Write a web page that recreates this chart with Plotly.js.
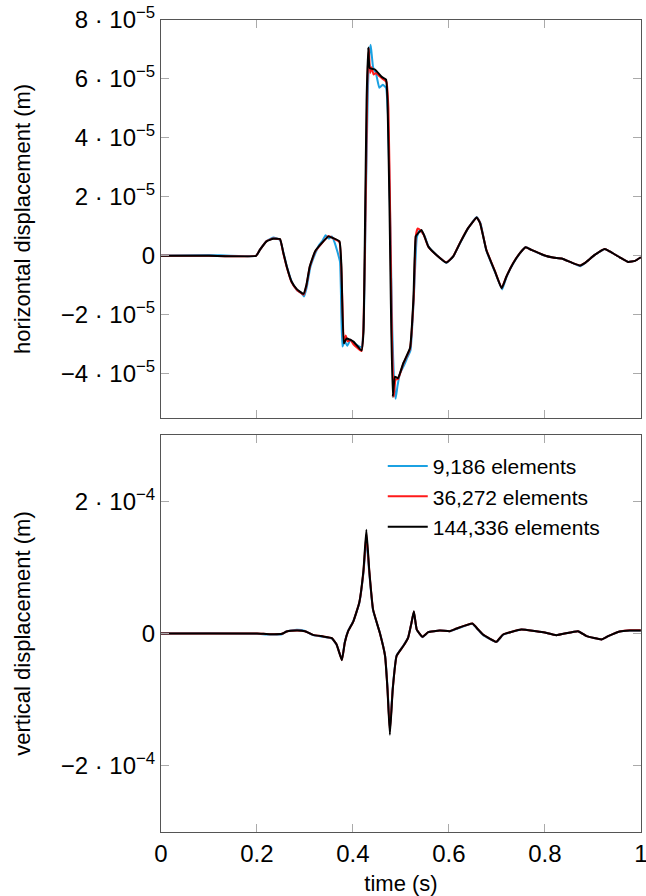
<!DOCTYPE html>
<html>
<head>
<meta charset="utf-8">
<script src="https://cdn.plot.ly/plotly-3.0.1.min.js"></script>
<style>html,body{margin:0;padding:0;background:#fff;}#chart{width:646px;height:896px;}</style>
</head>
<body>
<div id="chart"></div>
<script>
// ---- series names ----
const seriesNames = ["9,186 elements", "36,272 elements", "144,336 elements"];

// ---- horizontal displacement (units of 1e-6 m) ----
const tH_blue = [0,0.1,0.198,0.206,0.220,0.234,0.248,0.256,0.263,0.273,0.284,0.292,0.298,0.304,0.311,0.322,0.330,0.336,0.343,0.350,0.356,0.362,0.373,0.378,0.383,0.388,0.395,0.402,0.418,0.423,0.427,0.431,0.434,0.437,0.442,0.448,0.455,0.462,0.469,0.473,0.478,0.482,0.486,0.489,0.493,0.498,0.507,0.512,0.520,0.527,0.533,0.538,0.544,0.550,0.558,0.575,0.595,0.609,0.623,0.640,0.658,0.666,0.678,0.696,0.711,0.720,0.734,0.748,0.760,0.772,0.797,0.817,0.835,0.856,0.874,0.883,0.904,0.925,0.935,0.956,0.974,0.988,1.0];
const yH_blue = [0,0.3,0,2.0,5.0,6.2,5.4,0.5,-4.0,-9.0,-11.8,-12.5,-13.8,-10.5,-4.0,1.0,3.8,5.0,7.0,5.8,6.6,4.5,-2.0,-30.8,-29.0,-30.5,-28.5,-29.5,-31.0,-20,20,55,68,71.6,64,62,57,58,57,48,10,-25,-44,-48.5,-44,-40,-37,-35,-32,-14,6,8.5,8.0,6.5,3,0.2,-2.4,-0.3,4.2,9.3,13.2,11.0,1.8,-5.5,-11.4,-7.2,-2.6,0.8,3.0,2.0,0.2,-0.6,-0.9,-2.3,-3.5,-2.6,0.3,2.3,1.5,-0.5,-2.1,-1.7,-0.5];

const tH_red = [0,0.1,0.198,0.206,0.220,0.234,0.248,0.255,0.262,0.272,0.283,0.297,0.303,0.310,0.321,0.335,0.349,0.359,0.372,0.377,0.381,0.385,0.389,0.395,0.401,0.418,0.422,0.426,0.430,0.433,0.436,0.439,0.443,0.448,0.455,0.462,0.470,0.474,0.478,0.481,0.485,0.489,0.494,0.505,0.519,0.527,0.531,0.535,0.541,0.548,0.557,0.574,0.595,0.609,0.623,0.640,0.658,0.665,0.678,0.696,0.710,0.720,0.734,0.748,0.760,0.772,0.797,0.817,0.835,0.856,0.874,0.883,0.904,0.925,0.935,0.956,0.974,0.988,1.0];
const yH_red = [0,0,0,2.0,5.0,5.9,5.6,0.8,-3.8,-8.9,-11.5,-13.2,-10.2,-3.8,1.3,4.2,6.7,5.9,4.6,-10,-29.5,-27,-29,-28.5,-30,-32.3,-24,12,58,70.5,62,64,61.5,62,61,60,59,50,10,-25,-47.8,-42,-41.8,-36.6,-31.5,-13,6.8,9.3,8.6,7.0,3.1,0.3,-2.2,-0.2,4.4,9.4,13.0,11.2,2.1,-5.2,-10.9,-7.0,-2.4,0.9,2.9,2.0,0.3,-0.6,-0.9,-2.3,-3.3,-2.5,0.3,2.3,1.5,-0.5,-2.1,-1.7,-0.5];

const tH_black = [0,0.1,0.198,0.206,0.220,0.234,0.248,0.255,0.262,0.272,0.283,0.297,0.303,0.310,0.321,0.335,0.349,0.359,0.372,0.376,0.381,0.387,0.401,0.418,0.422,0.425,0.4285,0.432,0.435,0.446,0.460,0.469,0.472,0.476,0.479,0.483,0.4875,0.494,0.505,0.519,0.526,0.531,0.536,0.543,0.548,0.557,0.574,0.595,0.609,0.623,0.640,0.658,0.665,0.678,0.696,0.710,0.720,0.734,0.748,0.760,0.772,0.797,0.817,0.835,0.856,0.874,0.883,0.904,0.925,0.935,0.956,0.974,0.988,1.0];
const yH_black = [0,0,0,2.0,4.9,5.8,5.7,1.0,-3.6,-8.7,-11.3,-12.9,-9.9,-3.6,1.5,4.3,6.6,6.0,4.9,-3.6,-29.7,-28,-29.1,-32.1,-26,7.8,53,70.7,63.7,63.2,60.7,59.8,53,19,-15,-47.8,-41,-41.5,-36.4,-31.3,-15,6.6,7.7,8.8,7.1,3.2,0.3,-2.3,-0.2,4.3,9.4,13,11.1,2.0,-5.3,-11,-7.0,-2.5,0.9,2.9,2.0,0.3,-0.6,-0.9,-2.3,-3.3,-2.5,0.3,2.3,1.5,-0.5,-2.1,-1.7,-0.5];

// ---- vertical displacement (units of 1e-6 m) ----
const tV = [0,0.1,0.2,0.227,0.252,0.262,0.283,0.300,0.317,0.338,0.356,0.366,0.377,0.383,0.390,0.401,0.413,0.422,0.428,0.434,0.442,0.456,0.467,0.472,0.477,0.483,0.491,0.505,0.515,0.522,0.527,0.533,0.545,0.557,0.581,0.602,0.616,0.649,0.661,0.671,0.699,0.713,0.751,0.797,0.824,0.869,0.887,0.918,0.932,0.956,0.977,1.0];
const yV_blue  = [0,0.5,-0.5,-1.5,-1,3.5,5.5,4,-2.5,-5,-7.5,-17,-39,-13,4,19,45,92,142,92,35,1.5,-33,-80,-145,-82,-33,-18.5,-6,16,32,6,-5.5,2,4.5,3.5,7,14.5,5.5,-2,-13,-2,6,2,-2.5,3.5,-4,-9,-4,3,4.5,4.5];
const yV_red   = [0,0,0,-1,-0.5,3,4.5,3.5,-2,-4.5,-7,-16.5,-40,-14,3.5,18.5,46,94,150,95,36,1,-34,-83,-148,-84,-34,-19,-6.5,16,33,6,-5,2,4.5,3.5,7.5,15,6,-1.5,-12.5,-1.5,6,2,-2.5,3.5,-4,-9,-4,3,5,5];
const yV_black = [0,0,0,-1,-0.5,3,4.5,3.5,-2,-4.5,-7,-16.5,-40.6,-14,3.5,18.5,46,96,157,96,36,1,-34,-84,-153,-84,-34,-19,-6.5,16,33.5,6,-5,2,4.5,3.5,7.5,15,6,-1.5,-12.5,-1.5,6,2,-2.5,3.5,-4,-9,-4,3,4.5,4.5];

// ---- tick labels ----
const xTickVals = [0,0.2,0.4,0.6,0.8,1];
const xTickText = ["0","0.2","0.4","0.6","0.8","1"];
const yHTickVals = [-4e-5,-2e-5,0,2e-5,4e-5,6e-5,8e-5];
const yHTickText = ["−4 · 10<sup>−5</sup>","−2 · 10<sup>−5</sup>","0","2 · 10<sup>−5</sup>","4 · 10<sup>−5</sup>","6 · 10<sup>−5</sup>","8 · 10<sup>−5</sup>"];
const yVTickVals = [-2e-4,0,2e-4];
const yVTickText = ["−2 · 10<sup>−4</sup>","0","2 · 10<sup>−4</sup>"];

const colors = ["#1ba1e2","#ff1a1a","#000000"];
const scale = v => v.map(a => a*1e-6);

const FONT = "Liberation Sans, Arial, sans-serif";
const FS_TICK = 24;
const FS_TITLE = 22;
const FS_LEG = 21;

const lineStyle = c => ({color:c, width:2, shape:"spline", smoothing:0.35});

const traces = [
  {x:tH_blue, y:scale(yH_blue), xaxis:"x2", yaxis:"y2", name:seriesNames[0], showlegend:false, line:lineStyle(colors[0])},
  {x:tH_red, y:scale(yH_red), xaxis:"x2", yaxis:"y2", name:seriesNames[1], showlegend:false, line:lineStyle(colors[1])},
  {x:tH_black, y:scale(yH_black), xaxis:"x2", yaxis:"y2", name:seriesNames[2], showlegend:false, line:lineStyle(colors[2])},
  {x:tV, y:scale(yV_blue), xaxis:"x", yaxis:"y", name:seriesNames[0], line:lineStyle(colors[0])},
  {x:tV, y:scale(yV_red), xaxis:"x", yaxis:"y", name:seriesNames[1], line:lineStyle(colors[1])},
  {x:tV, y:scale(yV_black), xaxis:"x", yaxis:"y", name:seriesNames[2], line:lineStyle(colors[2])}
].map(t => Object.assign({type:"scatter", mode:"lines", hoverinfo:"skip"}, t));

const axisCommon = {
  showgrid:false, zeroline:false, showline:true, linecolor:"#555", linewidth:1, mirror:"ticks",
  ticks:"inside", ticklen:8, tickcolor:"#aaa", tickwidth:1, ticklabeloverflow:"allow",
  tickfont:{family:FONT, size:FS_TICK, color:"#000"}
};

const layout = {
  width:646, height:896,
  margin:{l:161, r:5, t:20, b:64},
  paper_bgcolor:"#fff", plot_bgcolor:"#fff",
  font:{family:FONT, size:FS_LEG, color:"#000"},
  showlegend:true,
  legend:{x:0.462, y:0.4755, xanchor:"left", yanchor:"top", bgcolor:"rgba(0,0,0,0)", borderwidth:0,
          itemwidth:40, font:{family:FONT, size:FS_LEG, color:"#000"}, tracegroupgap:0},
  xaxis: Object.assign({}, axisCommon, {domain:[0,1], range:[0,1.0004], tickvals:xTickVals, ticktext:xTickText, anchor:"y",
          title:{text:"time (s)", font:{family:FONT, size:FS_TITLE}, standoff:11}}),
  yaxis: Object.assign({}, axisCommon, {domain:[0,0.4889], range:[-3e-4,3e-4], tickvals:yVTickVals, ticktext:yVTickText, anchor:"x",
          title:{text:"vertical displacement (m)", font:{family:FONT, size:FS_TITLE}, standoff:23}}),
  xaxis2: Object.assign({}, axisCommon, {domain:[0,1], range:[0,1.0004], tickvals:xTickVals, showticklabels:false, anchor:"y2"}),
  yaxis2: Object.assign({}, axisCommon, {domain:[0.5099,1], range:[-5.5e-5,8e-5], tickvals:yHTickVals, ticktext:yHTickText, anchor:"x2",
          title:{text:"horizontal displacement (m)", font:{family:FONT, size:FS_TITLE}, standoff:23}})
};

Plotly.newPlot("chart", traces, layout, {staticPlot:true, displayModeBar:false});
</script>
</body>
</html>
